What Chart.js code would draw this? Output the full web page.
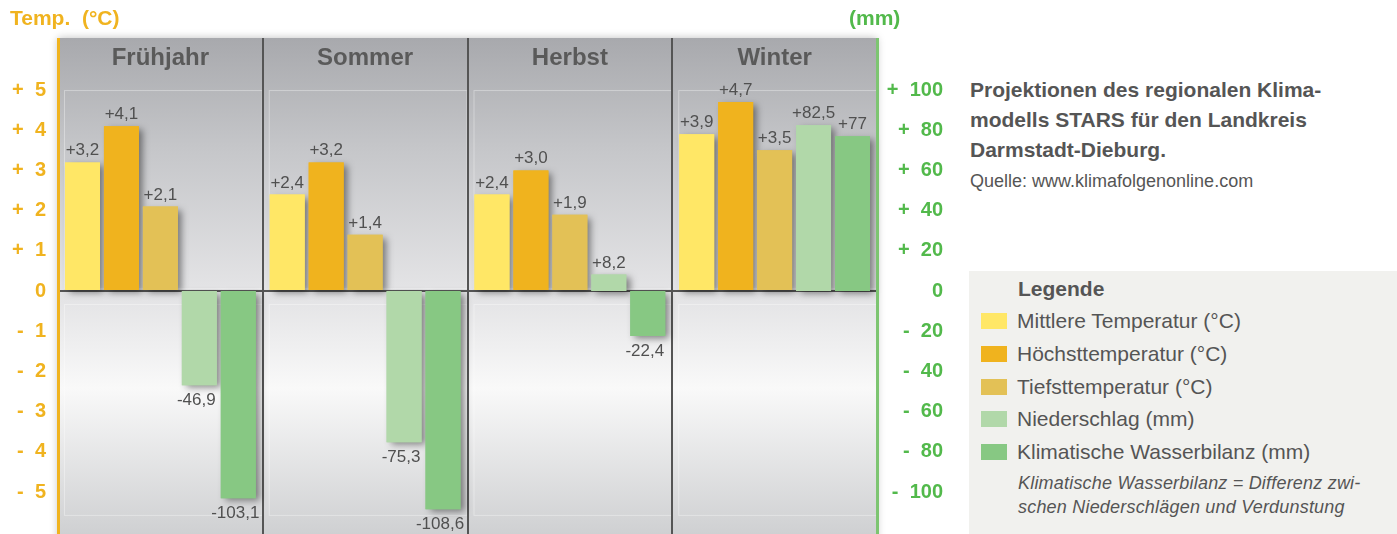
<!DOCTYPE html>
<html lang="de">
<head>
<meta charset="utf-8">
<script src="https://cdn.jsdelivr.net/npm/chart.js@4/dist/chart.umd.min.js"></script>
<style>
  body { margin: 0; width: 1397px; height: 534px; background: #fff; position: relative; overflow: hidden;
         font-family: "Liberation Sans", Arial, sans-serif; color: #555; }
  #chart { position: absolute; left: 0; top: 0; }
  .abs { position: absolute; white-space: nowrap; }
  .axTitle { font-weight: bold; font-size: 21px; line-height: 24px; top: 6px; }
  #titel { left: 970px; top: 75px; font-size: 21px; line-height: 30px; font-weight: bold; color: #555; }
  #quelle { left: 970px; top: 170px; font-size: 18px; line-height: 22px; color: #555; }
  #legende { left: 969px; top: 271px; width: 428px; height: 263px; background: #f1f1ee; }
  #legende .kopf { position: absolute; left: 49px; top: 3px; font-size: 21px; line-height: 30px; font-weight: bold; }
  #legende .zeile { position: absolute; left: 12px; height: 30px; font-size: 21px; line-height: 30px; }
  #legende .zeile span { display: inline-block; width: 26px; height: 16px; vertical-align: -1px; margin-right: 10px; }
  #legende .notiz { position: absolute; left: 49px; top: 200px; font-size: 18px; line-height: 24px; font-style: italic; letter-spacing: 0.2px; }
</style>
</head>
<body>
<canvas id="chart" width="960" height="534"></canvas>
<div class="abs axTitle" style="left:10px;color:#f0b31f">Temp.&nbsp; (°C)</div>
<div class="abs axTitle" style="left:849px;color:#52b94b">(mm)</div>
<div class="abs" id="titel">Projektionen des regionalen Klima-<br>modells STARS für den Landkreis<br>Darmstadt-Dieburg.</div>
<div class="abs" id="quelle">Quelle: www.klimafolgenonline.com</div>
<div class="abs" id="legende">
  <div class="kopf">Legende</div>
  <div id="zeilen"></div>
  <div class="notiz">Klimatische Wasserbilanz = Differenz zwi-<br>schen Niederschlägen und Verdunstung</div>
</div>
<script>
const jahreszeiten = ['Frühjahr', 'Sommer', 'Herbst', 'Winter'];
const mittlereTemp = [3.2, 2.4, 2.4, 3.9];
const hoechstTemp = [4.1, 3.2, 3.0, 4.7];
const tiefstTemp = [2.1, 1.4, 1.9, 3.5];
const niederschlag = [-46.9, -75.3, 8.2, 82.5];
const wasserbilanz = [-103.1, -108.6, -22.4, 77];

const serienNamen = ['Mittlere Temperatur (°C)', 'Höchsttemperatur (°C)', 'Tiefsttemperatur (°C)',
                     'Niederschlag (mm)', 'Klimatische Wasserbilanz (mm)'];
const farben = ['#ffe766', '#f0b31e', '#e3c156', '#b1d8a9', '#87c883'];

// temp axis: 1 °C == 20 mm
const tempMin = -6.045, tempMax = 5.25;

Chart.defaults.font.family = '"Liberation Sans", Arial, sans-serif';

const zeilen = document.getElementById('zeilen');
serienNamen.forEach((n, i) => {
    const d = document.createElement('div');
    d.className = 'zeile';
    d.style.top = (35 + i * 32.75) + 'px';
    d.innerHTML = '<span style="background:' + farben[i] + '"></span>' + n;
    zeilen.appendChild(d);
});

function fmtTemp(v) { return '+' + v.toFixed(1).replace('.', ','); }
function fmtMm(v) { return (v > 0 ? '+' : '-') + String(Math.abs(v)).replace('.', ','); }
function fmtAchse(v) { return v > 0 ? '+  ' + v : (v < 0 ? '-  ' + (-v) : '0'); }

const hintergrund = {
    id: 'hintergrund',
    beforeDraw(chart) {
        const { ctx, chartArea: a, scales } = chart;
        const top = scales.x.top, zero = scales.y.getPixelForValue(0), bottom = a.bottom;
        ctx.save();
        ctx.shadowColor = 'rgba(0,0,0,0.25)';
        ctx.shadowBlur = 8;
        ctx.fillStyle = '#ddd';
        ctx.fillRect(a.left, top, a.right - a.left, bottom - top + 10);
        ctx.restore();
        let g = ctx.createLinearGradient(0, top, 0, zero);
        g.addColorStop(0, '#a8a9ad');
        g.addColorStop(0.45, '#c6c7ca');
        g.addColorStop(1, '#e4e4e6');
        ctx.fillStyle = g;
        ctx.fillRect(a.left, top, a.right - a.left, zero - top);
        g = ctx.createLinearGradient(0, zero, 0, bottom);
        g.addColorStop(0, '#e2e2e4');
        g.addColorStop(0.4, '#f9f9f9');
        g.addColorStop(1, '#cfd0d2');
        ctx.fillStyle = g;
        ctx.fillRect(a.left, zero, a.right - a.left, bottom - zero);
        // light inner frames
        const w = (a.right - a.left) / jahreszeiten.length;
        const y5 = scales.y.getPixelForValue(5), yU = scales.y.getPixelForValue(-5.57);
        ctx.strokeStyle = 'rgba(255,255,255,0.35)';
        ctx.lineWidth = 1;
        for (let i = 0; i < jahreszeiten.length; i++) {
            const x0 = a.left + i * w;
            ctx.strokeRect(x0 + 6.5, y5 + 0.5, w - 7, zero - 3 - y5);
            ctx.strokeRect(x0 + 6.5, zero + 13.5, w - 7, yU - zero - 13);
        }
    },
    afterDraw(chart) {
        const { ctx, chartArea: a, scales } = chart;
        const top = scales.x.top;
        ctx.save();
        ctx.fillStyle = '#f0b31f';
        ctx.fillRect(a.left - 1, top, 3, a.bottom - top);
        ctx.fillStyle = '#7dc571';
        ctx.fillRect(a.right - 1, top, 3, a.bottom - top);
        ctx.restore();
    }
};

const schatten = {
    id: 'schatten',
    beforeDatasetsDraw(chart) {
        const ctx = chart.ctx;
        ctx.save();
        ctx.shadowColor = 'rgba(0,0,0,0.45)';
        ctx.shadowBlur = 7;
        ctx.shadowOffsetX = 4;
        ctx.shadowOffsetY = 3;
        chart.getSortedVisibleDatasetMetas().forEach(m => m.data.forEach(el => el.draw(ctx)));
        ctx.restore();
    },
    afterDatasetsDraw(chart) {
        const ctx = chart.ctx;
        ctx.save();
        ctx.font = '17px "Liberation Sans", Arial, sans-serif';
        ctx.fillStyle = '#505050';
        ctx.textAlign = 'center';
        ctx.textBaseline = 'alphabetic';
        chart.data.datasets.forEach((ds, di) => {
            chart.getDatasetMeta(di).data.forEach((el, i) => {
                const v = ds.data[i];
                const txt = ds.yAxisID === 'y' ? fmtTemp(v) : fmtMm(v);
                if (v >= 0) ctx.fillText(txt, el.x, el.y - 7);
                else ctx.fillText(txt, el.x - 3, el.y + 20);
            });
        });
        ctx.restore();
    }
};

const serien = [mittlereTemp, hoechstTemp, tiefstTemp, niederschlag, wasserbilanz];

new Chart(document.getElementById('chart'), {
    type: 'bar',
    data: {
        labels: jahreszeiten,
        datasets: serien.map((d, i) => ({
            label: serienNamen[i],
            data: d,
            backgroundColor: farben[i],
            yAxisID: i < 3 ? 'y' : 'y1',
            categoryPercentage: 0.9512,
            barPercentage: 0.8974
        }))
    },
    options: {
        responsive: false,
        devicePixelRatio: 1,
        animation: false,
        layout: { padding: { top: 38, left: 0, right: 17, bottom: 0 } },
        plugins: { legend: { display: false }, tooltip: { enabled: false } },
        scales: {
            x: {
                position: 'top',
                offset: true,
                grid: { offset: true, color: '#555', lineWidth: 2, drawTicks: true, tickLength: 42 },
                border: { display: false },
                ticks: { padding: -34.4, color: '#5a5a5a', font: { size: 24, weight: 'bold' } },
                afterFit(s) { s.height = 42; }
            },
            y: {
                position: 'left',
                min: tempMin,
                max: tempMax,
                grid: {
                    drawTicks: false,
                    color: c => c.tick && c.tick.value === 0 ? '#555' : 'transparent',
                    lineWidth: 2
                },
                border: { display: false },
                ticks: {
                    stepSize: 1,
                    autoSkip: false,
                    includeBounds: false,
                    padding: 12,
                    color: '#f0b31f',
                    font: { size: 20, weight: 'bold' },
                    callback: v => (!Number.isInteger(v) || Math.abs(v) > 5) ? '' : fmtAchse(v)
                },
                afterFit(s) { s.width = 58; s.paddingTop = 0; s.paddingBottom = 0; }
            },
            y1: {
                position: 'right',
                min: tempMin * 20,
                max: tempMax * 20,
                grid: { display: false, drawTicks: false },
                border: { display: false },
                ticks: {
                    stepSize: 20,
                    autoSkip: false,
                    includeBounds: false,
                    padding: 8,
                    crossAlign: 'far',
                    color: '#52b94b',
                    font: { size: 20, weight: 'bold' },
                    callback: v => (Math.abs(v % 20) > 1e-6 || Math.abs(v) > 100) ? '' : fmtAchse(v)
                },
                afterFit(s) { s.width = 66; s.paddingTop = 0; s.paddingBottom = 0; }
            }
        }
    },
    plugins: [hintergrund, schatten]
});
</script>
</body>
</html>
